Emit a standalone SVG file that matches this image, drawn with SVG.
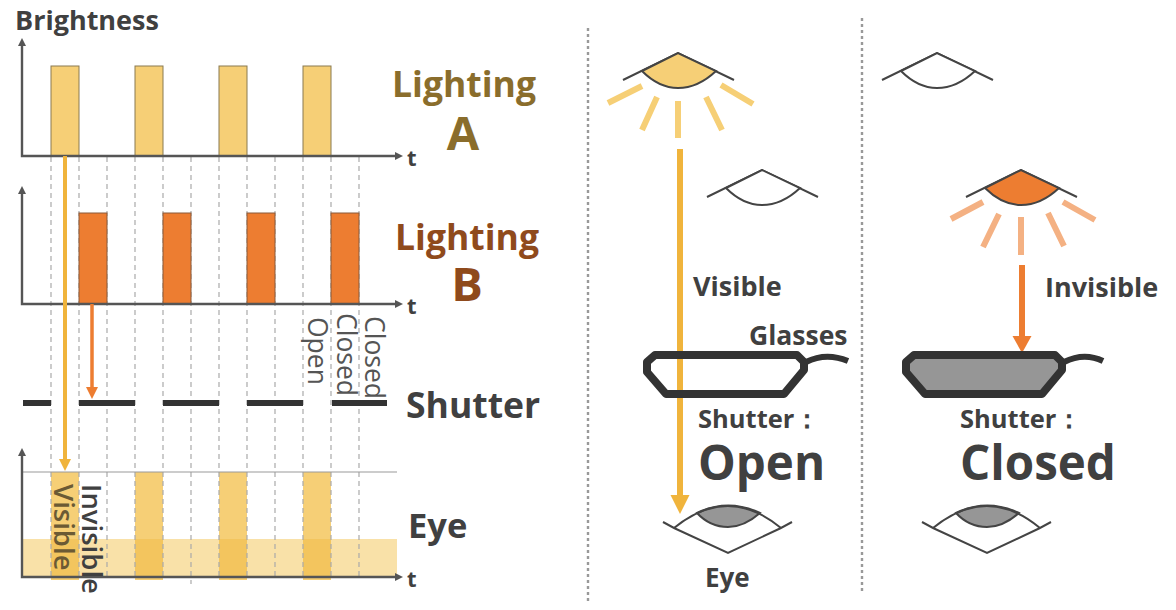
<svg xmlns="http://www.w3.org/2000/svg" xmlns:xlink="http://www.w3.org/1999/xlink" width="1176" height="610" viewBox="0 0 1176 610">
<style>
text{font-family:"Open Sans","Liberation Sans",sans-serif;font-weight:700;fill:#404040}
.reg{font-weight:400;fill:#555}
.ax{fill:none;stroke:#555;stroke-width:2.4}
.grid{stroke:#aaa;stroke-width:1.2;stroke-dasharray:5 4;fill:none}
.sep{stroke:#999;stroke-width:2.4;stroke-dasharray:3 3;fill:none}
.a{fill:#f6cf76;stroke:#8a7a50;stroke-width:1}
.b{fill:#ed7d31;stroke:#8a5a3a;stroke-width:1}
.shut{stroke:#333;stroke-width:6;fill:none}
.lid{fill:none;stroke:#444;stroke-width:2}
.raya{stroke:#f6cf76;stroke-width:6;fill:none}
.rayb{stroke:#f4b183;stroke-width:6;fill:none}
.glass{stroke:#333;stroke-width:8;stroke-linejoin:round}
.handle{stroke:#333;stroke-width:6;fill:none}
</style>
<defs>
<marker id="axh" markerUnits="userSpaceOnUse" markerWidth="10" markerHeight="10" refX="1" refY="5" orient="auto-start-reverse"><path d="M0 1L8 5L0 9Z" fill="#555"/></marker>
<marker id="yh" markerUnits="userSpaceOnUse" markerWidth="14" markerHeight="14" refX="1" refY="7" orient="auto"><path d="M1 1L13 7L1 13Z" fill="#f0b43c"/></marker>
<marker id="oh" markerUnits="userSpaceOnUse" markerWidth="14" markerHeight="14" refX="1" refY="7" orient="auto"><path d="M1 1L13 7L1 13Z" fill="#ed7d31"/></marker>
<marker id="yb" markerUnits="userSpaceOnUse" markerWidth="21" markerHeight="21" refX="1" refY="10.5" orient="auto"><path d="M1 1L20 10.5L1 20Z" fill="#f0b43c"/></marker>
<marker id="ob" markerUnits="userSpaceOnUse" markerWidth="21" markerHeight="21" refX="1" refY="10.5" orient="auto"><path d="M1 1L18 10.5L1 20Z" fill="#ed7d31"/></marker>
<g id="lamp"><path class="lid" d="M-56 19L-1 -8L55 19"/><path d="M-37 10L-1 -8L37 10Q19 27 -1 27Q-20 27 -37 10Z"/></g>
</defs>

<g id="eye-bands">
<rect x="22" y="539" width="375" height="38" fill="#f9e1a8"/>
<rect x="51" y="472" width="28" height="108" fill="#f6cf76"/><rect x="135" y="472" width="28" height="108" fill="#f6cf76"/><rect x="219" y="472" width="28" height="108" fill="#f6cf76"/><rect x="303" y="472" width="28" height="108" fill="#f6cf76"/>
<rect x="51" y="539" width="28" height="38" fill="#f3c55e"/><rect x="135" y="539" width="28" height="38" fill="#f3c55e"/><rect x="219" y="539" width="28" height="38" fill="#f3c55e"/><rect x="303" y="539" width="28" height="38" fill="#f3c55e"/>
</g>

<g id="grid">
<path class="grid" d="M51 157V580M79 157V580M107 157V578M135 157V580M163 157V580M191 157V584M219 157V580M247 157V580M275 157V580M303 157V580M331 157V580M359 157V578"/>
</g>

<g id="chart-a">
<rect class="a" x="51" y="66" width="28" height="90"/><rect class="a" x="135" y="66" width="28" height="90"/><rect class="a" x="219" y="66" width="28" height="90"/><rect class="a" x="303" y="66" width="28" height="90"/>
<path class="ax" marker-start="url(#axh)" marker-end="url(#axh)" d="M22 45V156H396"/>
<text x="15" y="30" font-size="27">Brightness</text>
<text x="407" y="166" font-size="22">t</text>
<text x="464" y="97" font-size="35.5" text-anchor="middle" style="fill:#8a6d2c">Lighting</text>
<text x="463" y="150" font-size="47" text-anchor="middle" style="fill:#8a6d2c">A</text>
</g>

<g id="chart-b">
<rect class="b" x="79" y="213" width="28" height="91"/><rect class="b" x="163" y="213" width="28" height="91"/><rect class="b" x="247" y="213" width="28" height="91"/><rect class="b" x="331" y="213" width="28" height="91"/>
<path class="ax" marker-start="url(#axh)" marker-end="url(#axh)" d="M22 193V304H396"/>
<text x="407" y="314" font-size="22">t</text>
<text x="467" y="250" font-size="35.5" text-anchor="middle" style="fill:#8f4a1c">Lighting</text>
<text x="467" y="301" font-size="47" text-anchor="middle" style="fill:#8f4a1c">B</text>
</g>

<g id="chart-shutter">
<path class="shut" d="M23 403H51M79 403H135M163 403H219M247 403H303M332 403H387"/>
<text class="reg" transform="translate(308,317) rotate(90)" font-size="26.5">Open</text>
<text class="reg" transform="translate(337,313) rotate(90)" font-size="26.5">Closed</text>
<text class="reg" transform="translate(365,316) rotate(90)" font-size="26.5">Closed</text>
<text x="406" y="418" font-size="35.5">Shutter</text>
</g>

<g id="chart-eye">
<path d="M22 472H397" stroke="#999" stroke-width="1" fill="none"/>
<path class="ax" marker-start="url(#axh)" marker-end="url(#axh)" d="M22 455V577H396"/>
<text x="407" y="587" font-size="22">t</text>
<text x="408" y="538" font-size="34.5">Eye</text>
<text transform="translate(54,484) rotate(90)" font-size="27.5" style="font-weight:600;fill:#6b5a34">Visible</text>
<text transform="translate(82,484) rotate(90)" font-size="27.5" style="font-weight:600">Invisible</text>
</g>

<g id="connectors">
<path d="M65 156V459" stroke="#f0b43c" stroke-width="4" fill="none" marker-end="url(#yh)"/>
<path d="M92 304V387" stroke="#ed7d31" stroke-width="3.5" fill="none" marker-end="url(#oh)"/>
<path d="M680 149V495" stroke="#f0b43c" stroke-width="6" fill="none" marker-end="url(#yb)"/>
<path d="M1022 265V336" stroke="#ed7d31" stroke-width="6" fill="none" marker-end="url(#ob)"/>
</g>

<g id="separators">
<path class="sep" d="M588 28V602M862 18V592"/>
</g>

<g id="lamp-a-on">
<use xlink:href="#lamp" href="#lamp" transform="translate(679,61)" fill="#f6cf76" stroke="#444" stroke-width="2"/>
<path class="raya" d="M642 86L608 103M657 97L642 130M678 101V138M706 97L722 130M721 85L753 104"/>
</g>
<g id="lamp-a-off">
<use xlink:href="#lamp" href="#lamp" transform="translate(763,178)" fill="#fff" stroke="#444" stroke-width="2"/>
</g>
<g id="lamp-b-off">
<use xlink:href="#lamp" href="#lamp" transform="translate(938,61)" fill="#fff" stroke="#444" stroke-width="2"/>
</g>
<g id="lamp-b-on">
<use xlink:href="#lamp" href="#lamp" transform="translate(1022,178)" fill="#ed7d31" stroke="#444" stroke-width="2"/>
<path class="rayb" d="M983 202L951 219M999 214L983 247M1021 217V255M1048 213L1064 246M1063 202L1095 220"/>
</g>

<g id="glasses-open">
<path class="glass" fill="none" d="M655 355H797L804 362V370L784 394H666L647 372V362Z"/>
<path class="handle" d="M806 362Q826 352 848 361"/>
<text x="749" y="345" font-size="26.5">Glasses</text>
</g>
<g id="glasses-closed">
<path class="glass" fill="#969696" d="M914 355H1055L1062 362V370L1042 394H925L906 372V362Z"/>
<path class="handle" d="M1064 362Q1084 352 1103 361"/>
</g>

<g id="eye-open">
<path d="M674 528Q728 484 781 528L728 553Z" fill="#fff"/>
<path d="M697 513Q728 498 760 513Q744 527 728 527Q710 527 697 513Z" fill="#969696" stroke="#444" stroke-width="2"/>
<path class="lid" d="M663 522L674 528Q728 484 781 528L792 522M674 528L728 553L781 528"/>
</g>
<g id="eye-closed">
<path d="M956 513Q987 498 1019 513Q1003 527 987 527Q969 527 956 513Z" fill="#969696" stroke="#444" stroke-width="2"/>
<path class="lid" d="M922 522L933 528Q987 484 1040 528L1051 522M933 528L987 553L1040 528"/>
</g>

<g id="labels">
<text x="693" y="296" font-size="27">Visible</text>
<text x="1045" y="297" font-size="27">Invisible</text>
<text x="698" y="428" font-size="25.5">Shutter：</text>
<text x="698" y="480" font-size="47.5">Open</text>
<text x="960" y="428" font-size="25.5">Shutter：</text>
<text x="960" y="480" font-size="47.5">Closed</text>
<text x="705" y="587" font-size="26">Eye</text>
</g>
</svg>
